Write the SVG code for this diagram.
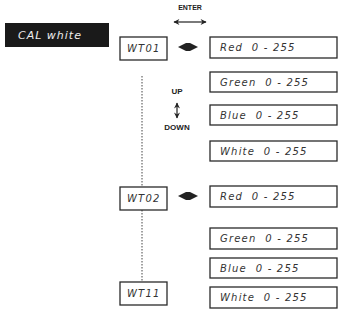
<svg xmlns="http://www.w3.org/2000/svg" width="340" height="322" viewBox="0 0 340 322">
<defs>
<style>
.box{fill:#fff;stroke:#2a2a2a;stroke-width:1.3}
.lcd{font-family:"DejaVu Sans","Liberation Sans",sans-serif;font-style:italic;font-size:10px;fill:#333;letter-spacing:1.2px;white-space:pre}
.lbl{font-family:"Liberation Sans",Arial,sans-serif;font-weight:bold;fill:#222}
.arr{stroke:#222;stroke-width:1.2;fill:none}
.head{fill:#222}
.dot{stroke:#444;stroke-width:1;stroke-dasharray:1.5 1.5;fill:none}
</style>
<marker id="ah" viewBox="0 0 10 10" refX="9" refY="5" markerWidth="8" markerHeight="6" orient="auto-start-reverse" markerUnits="userSpaceOnUse">
<path d="M0,0 L10,5 L0,10 L3,5 Z" fill="#222"/>
</marker>
</defs>

<g id="connectors">
<line class="dot" x1="142" y1="76" x2="142" y2="187"/>
<line class="dot" x1="142" y1="210" x2="142" y2="282"/>
<line class="arr" x1="174" y1="22" x2="206" y2="22" marker-start="url(#ah)" marker-end="url(#ah)"/>
<path class="head" d="M178,47 L186,43 L190,43 L198,47 L190,51 L186,51 Z"/>
<path class="head" d="M178,196 L186,192 L190,192 L198,196 L190,200 L186,200 Z"/>
<line class="arr" x1="177" y1="103" x2="177" y2="118" marker-start="url(#ah)" marker-end="url(#ah)"/>
</g>

<g id="labels">
<text class="lbl" x="190" y="10" font-size="7" text-anchor="middle">ENTER</text>
<text class="lbl" x="177" y="94" font-size="8" text-anchor="middle">UP</text>
<text class="lbl" x="177" y="130" font-size="8" text-anchor="middle">DOWN</text>
</g>

<g id="cal-white">
<rect x="5" y="23" width="104" height="24" fill="#1a1a1a"/>
<text x="18" y="39" font-family="DejaVu Sans,sans-serif" font-style="italic" font-size="11" fill="#eee" letter-spacing="1">CAL white</text>
</g>

<g id="wt01"><rect class="box" x="120" y="37" width="47" height="23"/><text class="lcd" x="127" y="52">WT01</text></g>
<g id="wt02"><rect class="box" x="120" y="187" width="47" height="23"/><text class="lcd" x="127" y="202">WT02</text></g>
<g id="wt11"><rect class="box" x="120" y="282" width="47" height="23"/><text class="lcd" x="127" y="297">WT11</text></g>

<g id="red1"><rect class="box" x="210" y="37" width="127" height="21"/><text class="lcd" x="220" y="51">Red  0 - 255</text></g>
<g id="green1"><rect class="box" x="210" y="72" width="127" height="20"/><text class="lcd" x="220" y="86">Green  0 - 255</text></g>
<g id="blue1"><rect class="box" x="210" y="105" width="127" height="20"/><text class="lcd" x="220" y="119">Blue  0 - 255</text></g>
<g id="white1"><rect class="box" x="210" y="141" width="127" height="20"/><text class="lcd" x="220" y="155">White  0 - 255</text></g>

<g id="red2"><rect class="box" x="210" y="186" width="127" height="21"/><text class="lcd" x="220" y="200">Red  0 - 255</text></g>
<g id="green2"><rect class="box" x="210" y="228" width="127" height="21"/><text class="lcd" x="220" y="242">Green  0 - 255</text></g>
<g id="blue2"><rect class="box" x="210" y="258" width="127" height="20"/><text class="lcd" x="220" y="272">Blue  0 - 255</text></g>
<g id="white2"><rect class="box" x="210" y="287" width="127" height="21"/><text class="lcd" x="220" y="301">White  0 - 255</text></g>
</svg>
